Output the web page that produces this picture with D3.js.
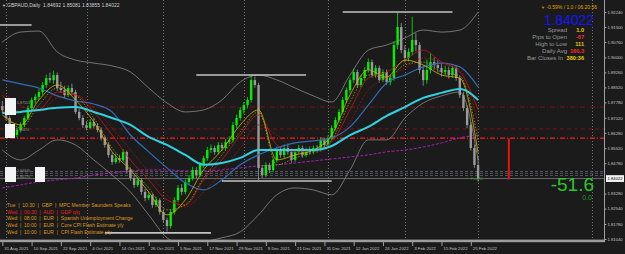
<!DOCTYPE html>
<html>
<head>
<meta charset="utf-8">
<script src="https://cdn.jsdelivr.net/npm/d3@7"></script>
<style>
  body { margin: 0; background: #1b1b1b; }
  svg { display: block; font-family: Arial, "Liberation Sans", sans-serif; }
</style>
</head>
<body>
<script>
// GBPAUD daily, MT4 style chart

var WIDTH = 625, HEIGHT = 254;
var PLOT_RIGHT = 604, PLOT_BOTTOM = 240;

// ---- candles (bar 0 = 31 Aug 2021, bar 130 = 1 Mar 2022)
var opens = [
  1.8760,1.8740,1.8701,1.8652,1.8617,1.8642,1.8666,1.8701,1.8750,1.8790,
  1.8805,1.8829,1.8864,1.8898,1.8888,1.8913,1.8849,1.8839,1.8814,1.8849,
  1.8829,1.8731,1.8701,1.8666,1.8652,1.8681,1.8661,1.8642,1.8602,1.8568,
  1.8518,1.8484,1.8503,1.8494,1.8533,1.8444,1.8405,1.8370,1.8395,1.8336,
  1.8306,1.8321,1.8272,1.8296,1.8237,1.8198,1.8168,1.8237,1.8296,1.8356,
  1.8336,1.8385,1.8405,1.8444,1.8420,1.8469,1.8503,1.8543,1.8553,1.8533,
  1.8568,1.8553,1.8582,1.8592,1.8666,1.8701,1.8740,1.8765,1.8790,1.8888,
  1.8864,1.8454,1.8420,1.8469,1.8444,1.8494,1.8543,1.8518,1.8553,1.8533,
  1.8494,1.8533,1.8553,1.8518,1.8543,1.8533,1.8553,1.8543,1.8592,1.8568,
  1.8602,1.8652,1.8691,1.8731,1.8790,1.8839,1.8888,1.8928,1.8864,1.8898,
  1.8938,1.8977,1.8913,1.8948,1.8888,1.8928,1.8878,1.8898,1.9061,1.9150,
  1.9036,1.8997,1.9027,1.9086,1.9061,1.8938,1.8888,1.8938,1.8977,1.8962,
  1.8948,1.8928,1.8938,1.8913,1.8948,1.8898,1.8814,1.8750,1.8666,1.8553,
  1.8469];
var highs = [
  1.8785,1.8752,1.8712,1.8668,1.8655,1.8680,1.8712,1.8762,1.8802,1.8820,
  1.8845,1.8878,1.8915,1.8925,1.8935,1.8925,1.8880,1.8860,1.8862,1.8870,
  1.8840,1.8745,1.8715,1.8685,1.8695,1.8700,1.8675,1.8655,1.8615,1.8580,
  1.8530,1.8525,1.8520,1.8548,1.8540,1.8455,1.8420,1.8410,1.8405,1.8350,
  1.8338,1.8330,1.8312,1.8305,1.8250,1.8210,1.8250,1.8310,1.8370,1.8375,
  1.8398,1.8420,1.8460,1.8458,1.8482,1.8515,1.8558,1.8570,1.8565,1.8582,
  1.8580,1.8598,1.8610,1.8682,1.8718,1.8755,1.8780,1.8805,1.8915,1.8905,
  1.8875,1.8470,1.8482,1.8480,1.8505,1.8560,1.8560,1.8570,1.8575,1.8548,
  1.8545,1.8568,1.8565,1.8555,1.8560,1.8565,1.8568,1.8605,1.8600,1.8615,
  1.8665,1.8705,1.8745,1.8805,1.8852,1.8900,1.8945,1.8940,1.8912,1.8952,
  1.8995,1.8990,1.8962,1.8960,1.8940,1.8940,1.8912,1.9080,1.9219,1.9170,
  1.9060,1.9045,1.9200,1.9120,1.9075,1.8960,1.8990,1.9020,1.9000,1.8985,
  1.8970,1.8960,1.8955,1.8965,1.8960,1.8910,1.8830,1.8765,1.8680,1.8570,
  1.8508];
var lows = [
  1.8725,1.8690,1.8640,1.8600,1.8605,1.8630,1.8655,1.8690,1.8738,1.8772,
  1.8790,1.8815,1.8850,1.8875,1.8870,1.8835,1.8825,1.8800,1.8805,1.8815,
  1.8720,1.8690,1.8652,1.8640,1.8645,1.8650,1.8630,1.8590,1.8555,1.8505,
  1.8470,1.8475,1.8480,1.8485,1.8430,1.8392,1.8355,1.8360,1.8322,1.8290,
  1.8295,1.8258,1.8262,1.8225,1.8185,1.8140,1.8155,1.8225,1.8285,1.8320,
  1.8325,1.8370,1.8392,1.8405,1.8410,1.8455,1.8490,1.8528,1.8520,1.8522,
  1.8538,1.8540,1.8570,1.8580,1.8650,1.8688,1.8722,1.8748,1.8778,1.8850,
  1.8395,1.8405,1.8410,1.8430,1.8435,1.8482,1.8505,1.8505,1.8520,1.8480,
  1.8485,1.8522,1.8505,1.8508,1.8520,1.8522,1.8530,1.8535,1.8555,1.8560,
  1.8592,1.8640,1.8680,1.8720,1.8778,1.8825,1.8875,1.8850,1.8852,1.8885,
  1.8925,1.8900,1.8900,1.8875,1.8878,1.8865,1.8862,1.8885,1.9040,1.9020,
  1.8975,1.8980,1.9010,1.9030,1.8920,1.8860,1.8870,1.8920,1.8940,1.8925,
  1.8905,1.8910,1.8895,1.8900,1.8885,1.8800,1.8735,1.8650,1.8540,1.8455,
  1.8386];
var closes = [
  1.8740,1.8701,1.8652,1.8617,1.8642,1.8666,1.8701,1.8750,1.8790,1.8805,
  1.8829,1.8864,1.8898,1.8888,1.8913,1.8849,1.8839,1.8814,1.8849,1.8829,
  1.8731,1.8701,1.8666,1.8652,1.8681,1.8661,1.8642,1.8602,1.8568,1.8518,
  1.8484,1.8503,1.8494,1.8533,1.8444,1.8405,1.8370,1.8395,1.8336,1.8306,
  1.8321,1.8272,1.8296,1.8237,1.8198,1.8168,1.8237,1.8296,1.8356,1.8336,
  1.8385,1.8405,1.8444,1.8420,1.8469,1.8503,1.8543,1.8553,1.8533,1.8568,
  1.8553,1.8582,1.8592,1.8666,1.8701,1.8740,1.8765,1.8790,1.8888,1.8864,
  1.8454,1.8420,1.8469,1.8444,1.8494,1.8543,1.8518,1.8553,1.8533,1.8494,
  1.8533,1.8553,1.8518,1.8543,1.8533,1.8553,1.8543,1.8592,1.8568,1.8602,
  1.8652,1.8691,1.8731,1.8790,1.8839,1.8888,1.8928,1.8864,1.8898,1.8938,
  1.8977,1.8913,1.8948,1.8888,1.8928,1.8878,1.8898,1.9061,1.9150,1.9036,
  1.8997,1.9027,1.9086,1.9061,1.8938,1.8888,1.8938,1.8977,1.8962,1.8948,
  1.8928,1.8938,1.8913,1.8948,1.8898,1.8814,1.8750,1.8666,1.8553,1.8469,
  1.8402];

// ---- x axis labels
var dateLabels = ['31 Aug 2021','10 Sep 2021','22 Sep 2021','4 Oct 2021','14 Oct 2021',
  '26 Oct 2021','5 Nov 2021','17 Nov 2021','29 Nov 2021','9 Dec 2021','21 Dec 2021',
  '31 Dec 2021','12 Jan 2022','24 Jan 2022','3 Feb 2022','15 Feb 2022','25 Feb 2022'];
var dateBars = [0,8,16,24,32,40,48,56,64,72,80,88,96,104,112,120,128];
var separatorBars = [1,23,44,66,89,110,130,161];

// ---- price axis labels
var priceTicks = [1.92240,1.91500,1.90760,1.90000,1.89260,1.88520,1.87780,1.87020,
  1.86280,1.85520,1.84780,1.83280,1.82540,1.81780,1.81040];
var bid = 1.84022;

// ---- indicator lines, read every 5 bars
var maBars = [0,5,10,15,20,25,30,35,40,45,50,55,60,65,70,75,80,85,90,95,100,105,110,115,120,125,130];
var maCyan = [1.8726,1.8731,1.8741,1.8751,1.8755,1.8731,1.8701,1.8667,1.8608,1.8568,1.8519,1.8470,1.8479,
  1.8504,1.8543,1.8543,1.8543,1.8543,1.8563,1.8617,1.8657,1.8711,1.8755,1.8800,1.8825,1.8844,1.8790];
var maBlue = [1.8889,1.8869,1.8849,1.8810,1.8785,1.8770,1.8731,1.8617,1.8534,1.8455,1.8381,1.8346,1.8396,
  1.8470,1.8519,1.8553,1.8578,1.8588,1.8603,1.8657,1.8765,1.8874,1.8913,1.8953,1.8972,1.8953,1.8854];
var maPurple = [1.8356,1.8371,1.8386,1.8396,1.8405,1.8420,1.8430,1.8440,1.8445,1.8445,1.8440,1.8440,1.8445,
  1.8455,1.8465,1.8470,1.8479,1.8489,1.8499,1.8509,1.8519,1.8534,1.8543,1.8558,1.8578,1.8603,1.8617];
var bandUpper = [1.9076,1.9125,1.9130,1.9027,1.8987,1.8972,1.8958,1.8928,1.8849,1.8775,1.8731,1.8741,1.8790,
  1.8879,1.8913,1.8889,1.8849,1.8810,1.8780,1.8913,1.9036,1.9061,1.9096,1.9135,1.9125,1.9135,1.9224];
var bandLower = [1.8543,1.8494,1.8543,1.8593,1.8568,1.8494,1.8420,1.8336,1.8223,1.8110,1.8075,1.8090,1.8110,
  1.8139,1.8223,1.8322,1.8356,1.8346,1.8322,1.8445,1.8593,1.8593,1.8701,1.8775,1.8810,1.8829,1.8494];
var maRed = [1.8815,1.8731,1.8741,1.8829,1.8815,1.8731,1.8617,1.8494,1.8396,1.8297,1.8272,1.8396,1.8494,
  1.8617,1.8716,1.8568,1.8534,1.8543,1.8583,1.8741,1.8898,1.8928,1.8987,1.9036,1.8977,1.8928,1.8741];
var maRedSlow = [1.8829,1.8765,1.8731,1.8800,1.8815,1.8751,1.8652,1.8543,1.8435,1.8322,1.8262,1.8336,1.8435,
  1.8553,1.8667,1.8617,1.8543,1.8534,1.8558,1.8682,1.8839,1.8898,1.8948,1.8997,1.8977,1.8938,1.8677];
var maYellow = [1.8716,1.8667,1.8790,1.8864,1.8790,1.8682,1.8534,1.8445,1.8336,1.8223,1.8297,1.8445,1.8543,
  1.8667,1.8741,1.8494,1.8519,1.8543,1.8617,1.8815,1.8938,1.8903,1.8987,1.8963,1.8913,1.8898,1.8529];
var maYellowSlow = [1.8741,1.8652,1.8765,1.8849,1.8815,1.8701,1.8553,1.8455,1.8356,1.8248,1.8272,1.8405,1.8519,
  1.8632,1.8731,1.8470,1.8504,1.8534,1.8593,1.8780,1.8913,1.8898,1.8963,1.8977,1.8928,1.8908,1.8593];

// ---- horizontal levels
var levelsDarkRed = [1.8755, 1.8647];
var levelRed = 1.8602;
var levelsGray = [1.8437, 1.8428, 1.8417];
var rangePrice = [1.9224, 1.8913, 1.8390, 1.8134, 1.9160];
var rangeFrom = [93, 53, 60, 28, -1];
var rangeTo = [123, 83, 90, 57, 8];
var redBar = [1.8600, 1.8398];

// ---- texts
var header = 'GBPAUD,Daily  1.84692 1.85081 1.83855 1.84022';
var infoTop = '-0.59% / 1.0 / 06:20:56';
var infoLabels = ['Spread', 'Pips to Open', 'High to Low', 'Daily Avg', 'Bar Closes In'];
var infoValues = ['1.0', '-67', '111', '160.3', '380:36'];
var infoKinds = ['up', 'down', 'up', 'down', 'up'];
var bigValue = '-51.6', smallValue = '0.0';
var calendar = [
  'Tue  |  10:30  |  GBP  |  MPC Member Saunders Speaks',
  'Wed  |  00:30  |  AUD  |  GDP q/q',
  'Wed  |  08:00  |  EUR  |  Spanish Unemployment Change',
  'Wed  |  10:00  |  EUR  |  Core CPI Flash Estimate y/y',
  'Wed  |  10:00  |  EUR  |  CPI Flash Estimate y/y'];
var calendarImpact = ['med', 'high', 'med', 'med', 'med'];

var svg = d3.select('body').append('svg')
  .attr('width', WIDTH).attr('height', HEIGHT);

svg.append('rect').attr('width', WIDTH).attr('height', HEIGHT).attr('fill', '#1b1b1b');

var x = d3.scaleLinear().domain([0, 130]).range([2.34, 478.1]);
var y = d3.scaleLinear().domain([1.8104, 1.9224]).range([239, 12]);

svg.append('clipPath').attr('id', 'plot')
  .append('rect').attr('x', 0).attr('y', 0).attr('width', PLOT_RIGHT).attr('height', PLOT_BOTTOM);

var plot = svg.append('g').attr('clip-path', 'url(#plot)');

// period separators
plot.selectAll('line.sep').data(separatorBars).enter().append('line')
  .attr('x1', d => Math.round(x(d)) + 0.5).attr('x2', d => Math.round(x(d)) + 0.5)
  .attr('y1', 0).attr('y2', PLOT_BOTTOM)
  .attr('stroke', '#8c8c8c').attr('stroke-width', 0.8).attr('stroke-dasharray', '1,2');

// horizontal levels
plot.selectAll('line.dr').data(levelsDarkRed).enter().append('line')
  .attr('x1', 0).attr('x2', PLOT_RIGHT)
  .attr('y1', d => y(d)).attr('y2', d => y(d))
  .attr('stroke', '#7c1414').attr('stroke-width', 1)
  .attr('stroke-dasharray', (d, i) => i == 0 ? '5,2,1,2' : '4,3');

plot.append('line')
  .attr('x1', 0).attr('x2', PLOT_RIGHT).attr('y1', y(levelRed)).attr('y2', y(levelRed))
  .attr('stroke', '#ff1a1a').attr('stroke-width', 1.3).attr('stroke-dasharray', '5,2,1,2');

plot.selectAll('line.gr').data(levelsGray).enter().append('line')
  .attr('x1', 0).attr('x2', PLOT_RIGHT)
  .attr('y1', d => y(d)).attr('y2', d => y(d))
  .attr('stroke', '#5d6470').attr('stroke-width', 0.8).attr('stroke-dasharray', '3,2');

plot.append('line')
  .attr('x1', 0).attr('x2', PLOT_RIGHT).attr('y1', y(bid)).attr('y2', y(bid))
  .attr('stroke', '#8a8a8a').attr('stroke-width', 0.7);

// indicator lines
var lines = [
  {v: bandUpper, c: '#8a8a8a', w: 0.8, d: null},
  {v: bandLower, c: '#8a8a8a', w: 0.8, d: null},
  {v: maPurple, c: '#a81fb0', w: 1, d: '3,1.5'},
  {v: maBlue, c: '#2f6db5', w: 1.2, d: null},
  {v: maRedSlow, c: '#a01212', w: 0.8, d: '2,1.5'},
  {v: maRed, c: '#c81818', w: 0.8, d: null},
  {v: maYellowSlow, c: '#a89a20', w: 0.8, d: '1.5,1.5'},
  {v: maYellow, c: '#cdb800', w: 0.8, d: null},
  {v: maCyan, c: '#2fd2e2', w: 2, d: null}
];
var lineGen = d3.line().x((d, i) => x(maBars[i])).y(d => y(d)).curve(d3.curveMonotoneX);

// candles go under the cyan MA and over the bands
lines.slice(0, 3).forEach(l => {
  plot.append('path').attr('d', lineGen(l.v)).attr('fill', 'none')
    .attr('stroke', l.c).attr('stroke-width', l.w).attr('stroke-dasharray', l.d);
});

var bars = d3.range(closes.length);
var candleColor = i => closes[i] > opens[i] ? '#00f000' : '#9a9a9a';

plot.selectAll('line.wick').data(bars).enter().append('line')
  .attr('x1', i => x(i)).attr('x2', i => x(i))
  .attr('y1', i => y(highs[i])).attr('y2', i => y(lows[i]))
  .attr('stroke', candleColor).attr('stroke-width', 0.8);

plot.selectAll('rect.body').data(bars).enter().append('rect')
  .attr('x', i => x(i) - 1.2).attr('width', 2.4)
  .attr('y', i => y(Math.max(opens[i], closes[i])))
  .attr('height', i => Math.max(0.7, Math.abs(y(opens[i]) - y(closes[i]))))
  .attr('fill', candleColor);

lines.slice(3).forEach(l => {
  plot.append('path').attr('d', lineGen(l.v)).attr('fill', 'none')
    .attr('stroke', l.c).attr('stroke-width', l.w).attr('stroke-dasharray', l.d);
});

// previous range segments
plot.selectAll('line.rng').data(rangePrice).enter().append('line')
  .attr('x1', (d, i) => x(rangeFrom[i])).attr('x2', (d, i) => x(rangeTo[i]))
  .attr('y1', d => y(d)).attr('y2', d => y(d))
  .attr('stroke', '#c4c4c4').attr('stroke-width', 1.6);

// red range bar
plot.append('rect')
  .attr('x', x(138.4) - 1).attr('width', 2)
  .attr('y', y(redBar[0])).attr('height', y(redBar[1]) - y(redBar[0]))
  .attr('fill', '#ee1010');

// object labels on the left
var boxes = [[5, 98, 11, 17], [5, 124, 10, 14], [5, 167, 11, 15], [35, 167, 10, 15]];
plot.selectAll('rect.lbl').data(boxes).enter().append('rect')
  .attr('x', d => d[0]).attr('y', d => d[1]).attr('width', d => d[2]).attr('height', d => d[3])
  .attr('fill', '#f4f4f4');
var boxTexts = [[17, 104, '1.87553'], [16, 131, '1.86470'], [17, 172, '1.84370'], [17, 178, '1.84170']];
plot.selectAll('text.lbl').data(boxTexts).enter().append('text')
  .attr('x', d => d[0]).attr('y', d => d[1]).text(d => d[2])
  .attr('font-size', 3.6).attr('fill', '#9a9a9a');

plot.append('text').attr('x', 471).attr('y', 180).text('Fast 51')
  .attr('font-size', 3.6).attr('fill', '#22a022');

// header
svg.append('text').attr('x', 2).attr('y', 7).text('▼').attr('font-size', 4).attr('fill', '#d0d0d0');
svg.append('text').attr('x', 7).attr('y', 7).text(header)
  .attr('font-size', 5).attr('fill', '#d0d0d0').style('white-space', 'pre');

// info panel
svg.append('text').attr('x', 597).attr('y', 9).attr('text-anchor', 'end').text(infoTop)
  .attr('font-size', 5).attr('fill', '#e0a000');
svg.append('text').attr('x', 541).attr('y', 9).text('▼').attr('font-size', 4).attr('fill', '#e0a000');
svg.append('text').attr('x', 544).attr('y', 25).text('1.84022')
  .attr('font-size', 14.5).attr('textLength', 50).attr('lengthAdjust', 'spacingAndGlyphs')
  .attr('fill', '#1414ff');
svg.selectAll('text.il').data(infoLabels).enter().append('text')
  .attr('x', (d, i) => i == 4 ? 563 : 567).attr('y', (d, i) => 31.5 + i * 7.2)
  .attr('text-anchor', 'end').text(d => d)
  .attr('font-size', 6).attr('fill', '#9a9a9a');
svg.selectAll('text.iv').data(infoValues).enter().append('text')
  .attr('x', 584).attr('y', (d, i) => 31.5 + i * 7.2)
  .attr('text-anchor', 'end').text(d => d)
  .attr('font-size', 5.6).attr('font-weight', 'bold')
  .attr('fill', (d, i) => infoKinds[i] == 'up' ? '#e6d000' : '#ff2a2a');

svg.append('text').attr('x', 594).attr('y', 191).attr('text-anchor', 'end').text(bigValue)
  .attr('font-size', 19).attr('fill', '#2ec42e');
svg.append('text').attr('x', 592).attr('y', 199.5).attr('text-anchor', 'end').text(smallValue)
  .attr('font-size', 7).attr('fill', '#1e9a1e');

// calendar
svg.selectAll('text.cal').data(calendar).enter().append('text')
  .attr('x', 7).attr('y', (d, i) => 206.8 + i * 6.7).text(d => d)
  .style('white-space', 'pre')
  .attr('font-size', 5).attr('fill', (d, i) => calendarImpact[i] == 'high' ? '#e82020' : '#dc9a22');

// frame
svg.append('rect').attr('x', 0).attr('y', 239.6).attr('width', PLOT_RIGHT + 1).attr('height', 2.6)
  .attr('fill', '#9c9c9c');
svg.append('line').attr('x1', PLOT_RIGHT + 0.5).attr('x2', PLOT_RIGHT + 0.5)
  .attr('y1', 0).attr('y2', 242).attr('stroke', '#a0a0a0').attr('stroke-width', 1);

// price axis
var yAxis = svg.append('g').attr('transform', `translate(${PLOT_RIGHT + 0.5},0)`)
  .call(d3.axisRight(y).tickValues(priceTicks).tickFormat(d3.format('.5f')).tickSize(2).tickPadding(1));
yAxis.select('.domain').remove();
yAxis.selectAll('line').attr('stroke', '#a0a0a0');
yAxis.selectAll('text').attr('font-size', 4.2).attr('fill', '#c4c4c4').attr('font-family', 'Arial');

svg.append('rect').attr('x', 606).attr('y', y(bid) - 3.4).attr('width', 18).attr('height', 6.8)
  .attr('fill', '#f4f4f4');
svg.append('text').attr('x', 607.5).attr('y', y(bid) + 1.5).text(d3.format('.5f')(bid))
  .attr('font-size', 4.2).attr('fill', '#000');

// date axis
var xAxis = svg.append('g').attr('transform', 'translate(0,242)')
  .call(d3.axisBottom(x).tickValues(dateBars).tickFormat((d, i) => dateLabels[i]).tickSize(4).tickPadding(0.5));
xAxis.select('.domain').remove();
xAxis.selectAll('line').attr('stroke', '#a0a0a0');
xAxis.selectAll('text').attr('text-anchor', 'start').attr('dx', 1.5)
  .attr('font-size', 4.3).attr('fill', '#c4c4c4').attr('font-family', 'Arial');
</script>
</body>
</html>
